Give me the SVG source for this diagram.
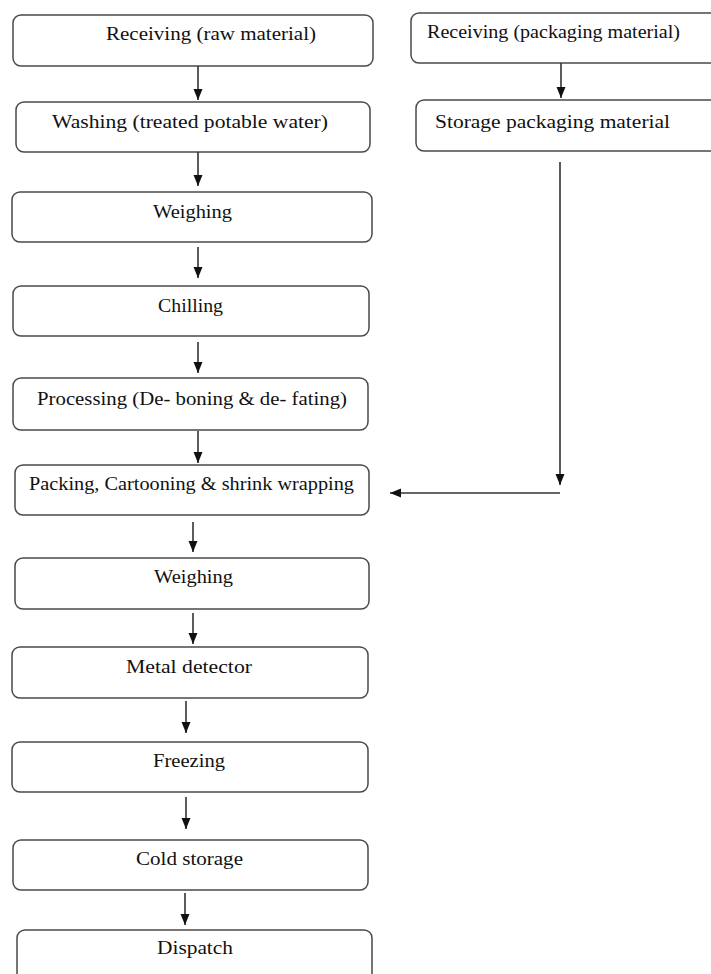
<svg xmlns="http://www.w3.org/2000/svg" width="711" height="974" viewBox="0 0 711 974">
<style>
.box{fill:#fff;stroke:#4a4a4a;stroke-width:1.5}
.lbl{font-family:"Liberation Serif","Times New Roman",serif;font-size:19px;fill:#111}
.cn{stroke:#333;stroke-width:1.6;fill:none;marker-end:url(#ah)}
</style>
<defs>
<marker id="ah" markerUnits="userSpaceOnUse" markerWidth="11" markerHeight="10" refX="11" refY="4.5" orient="auto">
<path d="M0,0 L11,4.5 L0,9 z" fill="#111"/>
</marker>
</defs>
<rect width="711" height="974" fill="#fff"/>
<g id="n1"><rect class="box" x="13" y="15" width="360" height="51" rx="8"/><text class="lbl" x="106" y="40" textLength="210" lengthAdjust="spacingAndGlyphs">Receiving (raw material)</text></g>
<g id="n2"><rect class="box" x="16" y="102" width="354" height="50" rx="8"/><text class="lbl" x="52" y="128" textLength="276" lengthAdjust="spacingAndGlyphs">Washing (treated potable water)</text></g>
<g id="n3"><rect class="box" x="12" y="192" width="360" height="50" rx="8"/><text class="lbl" x="153" y="218" textLength="79" lengthAdjust="spacingAndGlyphs">Weighing</text></g>
<g id="n4"><rect class="box" x="13" y="286" width="356" height="50" rx="8"/><text class="lbl" x="158" y="312" textLength="65" lengthAdjust="spacingAndGlyphs">Chilling</text></g>
<g id="n5"><rect class="box" x="13" y="378" width="355" height="52" rx="8"/><text class="lbl" x="37" y="405" textLength="310" lengthAdjust="spacingAndGlyphs">Processing (De- boning &amp; de- fating)</text></g>
<g id="n6"><rect class="box" x="15" y="465" width="354" height="50" rx="8"/><text class="lbl" x="29" y="490" textLength="325" lengthAdjust="spacingAndGlyphs">Packing, Cartooning &amp; shrink wrapping</text></g>
<g id="n7"><rect class="box" x="15" y="558" width="354" height="51" rx="8"/><text class="lbl" x="154" y="583" textLength="79" lengthAdjust="spacingAndGlyphs">Weighing</text></g>
<g id="n8"><rect class="box" x="12" y="647" width="356" height="51" rx="8"/><text class="lbl" x="126" y="673" textLength="126" lengthAdjust="spacingAndGlyphs">Metal detector</text></g>
<g id="n9"><rect class="box" x="12" y="742" width="356" height="50" rx="8"/><text class="lbl" x="153" y="767" textLength="72" lengthAdjust="spacingAndGlyphs">Freezing</text></g>
<g id="n10"><rect class="box" x="13" y="840" width="355" height="50" rx="8"/><text class="lbl" x="136" y="865" textLength="107" lengthAdjust="spacingAndGlyphs">Cold storage</text></g>
<g id="n11"><rect class="box" x="17" y="930" width="355" height="60" rx="8"/><text class="lbl" x="157" y="954" textLength="76" lengthAdjust="spacingAndGlyphs">Dispatch</text></g>
<g id="r1"><rect class="box" x="411" y="13" width="320" height="50" rx="8"/><text class="lbl" x="427" y="38" textLength="253" lengthAdjust="spacingAndGlyphs">Receiving (packaging material)</text></g>
<g id="r2"><rect class="box" x="416" y="100" width="320" height="51" rx="8"/><text class="lbl" x="435" y="128" textLength="235" lengthAdjust="spacingAndGlyphs">Storage packaging material</text></g>
<g id="connectors">
<line class="cn" x1="198" y1="66" x2="198" y2="100"/>
<line class="cn" x1="198" y1="152" x2="198" y2="186"/>
<line class="cn" x1="198" y1="247" x2="198" y2="278"/>
<line class="cn" x1="198" y1="342" x2="198" y2="373"/>
<line class="cn" x1="198" y1="431" x2="198" y2="463"/>
<line class="cn" x1="193" y1="522" x2="193" y2="552"/>
<line class="cn" x1="193" y1="613" x2="193" y2="644"/>
<line class="cn" x1="186" y1="701" x2="186" y2="733"/>
<line class="cn" x1="186" y1="797" x2="186" y2="829"/>
<line class="cn" x1="185" y1="893" x2="185" y2="925"/>
<line class="cn" x1="561" y1="63" x2="561" y2="98"/>
<line class="cn" x1="560" y1="162" x2="560" y2="485"/>
<line class="cn" x1="560" y1="493" x2="390" y2="493"/>
</g>
</svg>
